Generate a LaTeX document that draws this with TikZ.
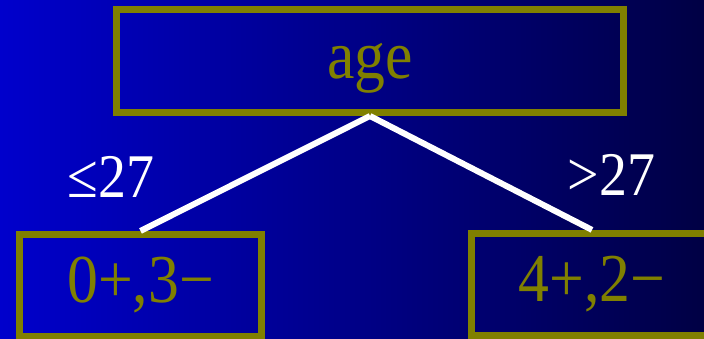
\documentclass[tikz,border=0pt]{standalone}
\usepackage{fontspec}
\setmainfont{Liberation Serif}
\newfontfamily\treefont[FakeStretch=0.9]{Liberation Serif}
\definecolor{treeolive}{RGB}{128,128,0}
\definecolor{bgleft}{RGB}{0,0,204}
\definecolor{bgright}{RGB}{0,0,68}
\usetikzlibrary{positioning}

\begin{document}
\begin{tikzpicture}[
  x=0.03cm, y=-0.03cm,
  split/.style={draw=treeolive, line width=0.21cm, text=treeolive, inner sep=0pt,
    font=\treefont\fontsize{58.5}{66}\selectfont, text height=42pt, text depth=12pt},
  leaf/.style={split, minimum width=7.26cm, minimum height=3.05cm},
  branch/.style={draw=white, line width=0.18cm},
  lbl/.style={text=white, font=\treefont\fontsize{53}{60}\selectfont, anchor=base, inner sep=0pt}
]

\clip (0,0) rectangle (704,339);
\shade[left color=bgleft, right color=bgright] (0,0) rectangle (704,339);

\node[split, minimum width=15.18cm, minimum height=3.09cm] (age) at (370,61) {age};

\node[leaf] (young) at (140.5,285.25) {0+,3−};
\node[leaf] (old)   at (592,284.25)   {4+,2−};

\draw[branch] (age.south) -- (young.north);
\draw[branch] (age.south) -- (old.north);

\node[lbl] (lo) at (111,197)   {≤27};
\node[lbl] (hi) at (611.5,195) {>27};

\end{tikzpicture}
\end{document}
